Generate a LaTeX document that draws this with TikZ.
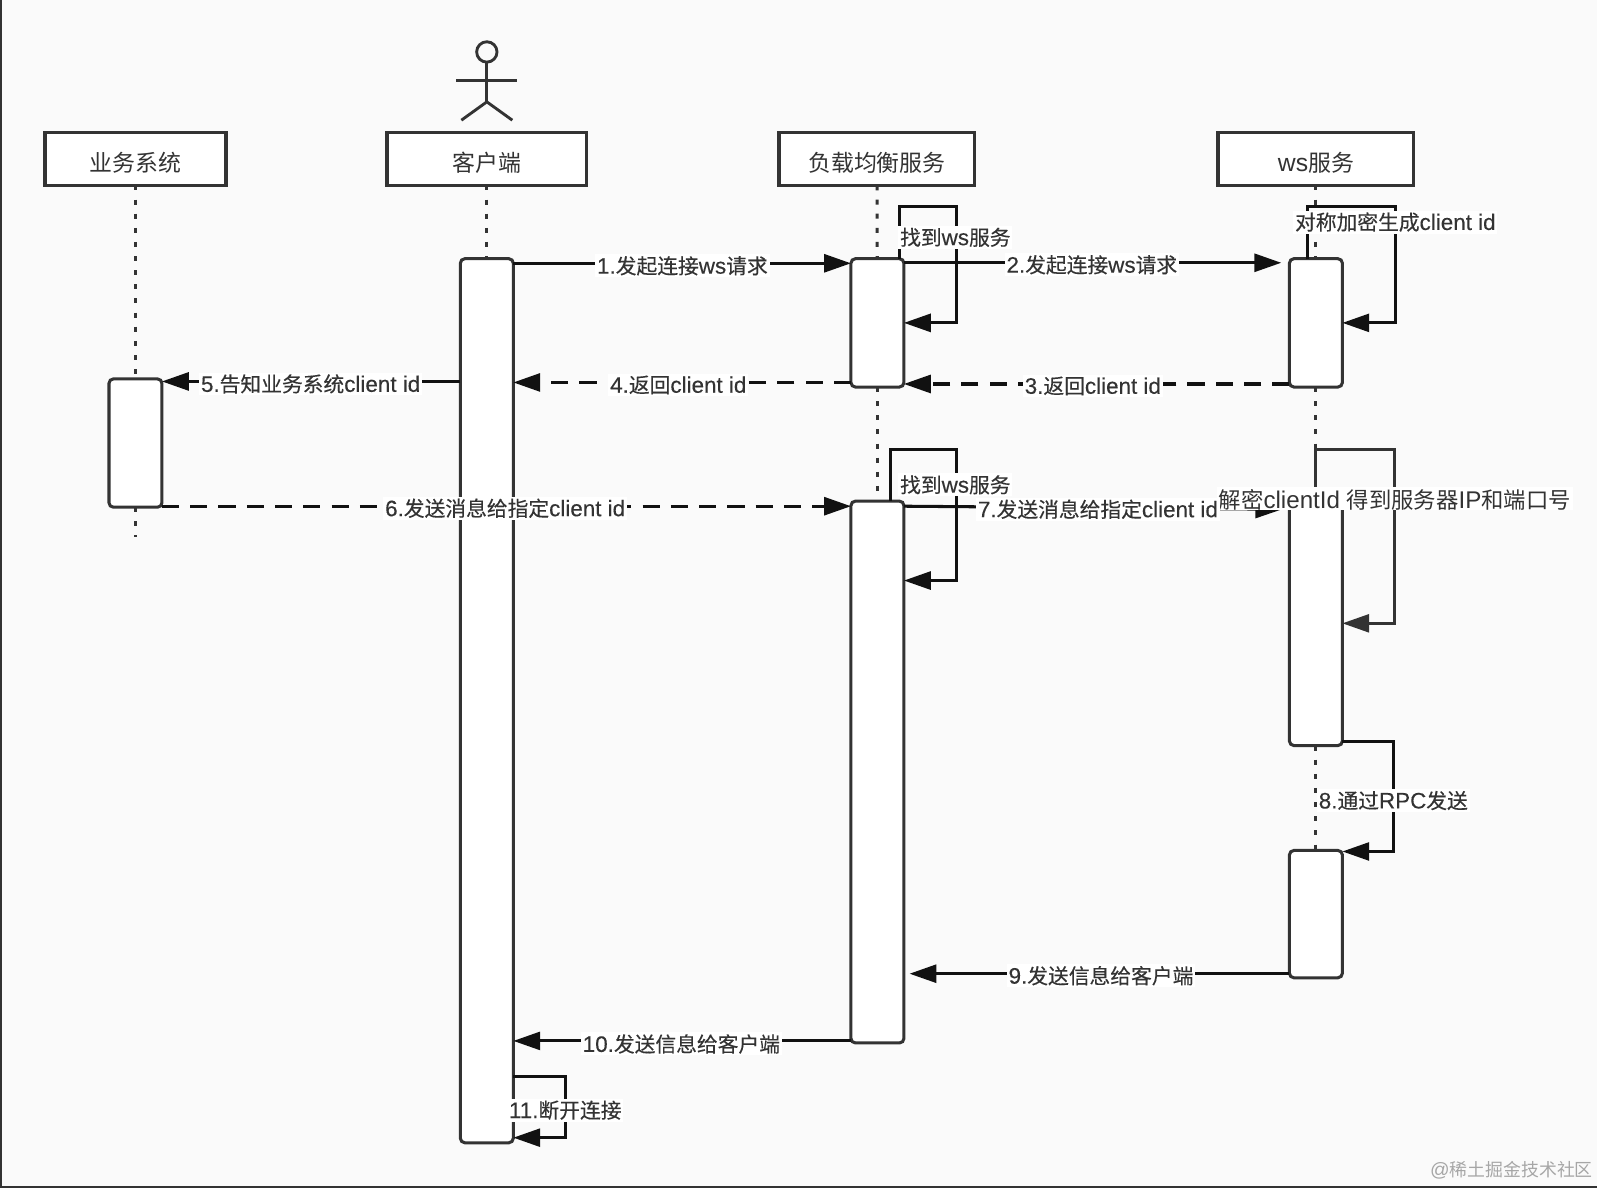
\documentclass[tikz,border=0pt]{standalone}
\usepackage{fontspec}
\setmainfont[Scale=1.08]{Liberation Sans}
\newfontfamily\latheavy[Scale=1.08,FakeBold=0.25]{Liberation Sans}
\newfontfamily\cjk{Noto Sans CJK SC}
\newfontfamily\cjkheavy[FakeBold=0.25]{Noto Sans CJK SC}
\usetikzlibrary{arrows.meta}
\definecolor{paper}{HTML}{FAFAFA}
\definecolor{ink}{HTML}{333333}
\definecolor{wire}{HTML}{111111}
\tikzset{
	headbox/.style={draw=ink, fill=white, line width=2pt, outer sep=0pt, inner sep=0pt, minimum height=1.04cm, text height=13.6pt, text depth=0pt, text=ink, font=\fontsize{12.8}{15}\selectfont},
	lifeline/.style={draw=ink, line width=1.7pt, dash pattern=on 2.8pt off 5.1pt},
	bar/.style={draw=ink, fill=white, line width=1.7pt, rounded corners=2.5pt, outer sep=0pt, inner sep=0pt, minimum width=1.04cm, minimum height=#1*0.02cm},
	msg/.style={draw=wire, line width=1.7pt, -{Triangle[length=15pt,width=10pt]}},
	reply/.style={msg, dash pattern=on 9.6pt off 6.2pt},
	msglabel/.style={fill=white, text=ink, inner sep=1pt, font=\fontsize{11.6}{14}\selectfont\latheavy\let\cjk\cjkheavy},
	biglabel/.style={fill=white, text=ink, inner sep=1pt, text depth=0pt, font=\fontsize{12.5}{15}\selectfont},
}
\begin{document}
\begin{tikzpicture}[x=0.02cm, y=-0.02cm]

	\fill[paper] (0,0) rectangle (1568,1166.4);
	\useasboundingbox (0,0) rectangle (1568,1166.4);
	\fill[ink] (0,0) rectangle (1.5,1166.4);
	\fill[ink] (0,1164) rectangle (1568,1166.4);

	\node[headbox, minimum width=3.56cm] (biz) at (133,156) {\cjk 业务系统};
	\node[headbox, minimum width=3.92cm] (client) at (478,156) {\cjk 客户端};
	\node[headbox, minimum width=3.84cm] (balance) at (861,156) {\cjk 负载均衡服务};
	\node[headbox, minimum width=3.84cm] (ws) at (1292,156) {ws{\cjk 服务}};

	\node[bar=126] (bizbar) at (133,435) {};
	\node[bar=868] (clientbar) at (478,688) {};
	\node[bar=126] (balancebarA) at (861.5,317) {};
	\node[bar=532] (balancebarB) at (861.5,758) {};
	\node[bar=126] (wsbarA) at (1292,317) {};
	\node[bar=240] (wsbarB) at (1292,612) {};
	\node[bar=125] (wsbarC) at (1292,897.5) {};
	\coordinate (bizend) at (133,527);

	\draw[lifeline] (biz) -- (bizbar);
	\draw[lifeline] (bizbar) -- (bizend);
	\draw[lifeline] (client) -- (clientbar);
	\draw[lifeline] (balance) -- (balancebarA);
	\draw[lifeline] (balancebarA) -- (balancebarB);
	\draw[lifeline] (ws) -- (wsbarA);
	\draw[lifeline] (wsbarA) -- (wsbarB);
	\draw[lifeline] (wsbarB) -- (wsbarC);

	\coordinate (head) at (478,51);
	\draw[ink, line width=1.6pt] (head) circle (10);
	\draw[ink, line width=1.6pt] (478,61) -- (478,100);
	\draw[ink, line width=1.6pt] (448,79) -- (508,79);
	\draw[ink, line width=1.6pt] (453,118) -- (478,100) -- (503,118);

	\draw[msg] (clientbar.north east |- 0,258.5) -- (balancebarA.west |- 0,258.5);
	\draw[msg] (balancebarA.east |- 0,258) -- (1258,258);
	\draw[reply] (wsbarA.west |- 0,377) -- (balancebarA.east |- 0,377);
	\draw[reply] (balancebarA.west |- 0,375.5) -- (clientbar.east |- 0,375.5);
	\draw[msg] (clientbar.west |- 0,374.5) -- (bizbar.east |- 0,374.5);
	\draw[reply] (bizbar.east |- 0,497) -- (balancebarB.west |- 0,497);
	\draw[msg] (balancebarB.east |- 0,497) -- (1259,500);
	\draw[msg] (wsbarC.west |- 0,956) -- (893,956);
	\draw[msg] (balancebarB.west |- 0,1022) -- (clientbar.east |- 0,1022);

	\draw[msg] (883,254) -- (883,203) -- (939,203) -- (939,317) -- (balancebarA.east |- 0,317);
	\draw[msg] (874,492) -- (874,441) -- (939,441) -- (939,570) -- (balancebarB.east |- 0,570);
	\draw[msg] (1284,254) -- (1284,203) -- (1370,203) -- (1370,317) -- (wsbarA.east |- 0,317);
	\draw[msg, draw=ink] (1292,492) -- (1292,441) -- (1369,441) -- (1369,612) -- (wsbarB.east |- 0,612);
	\draw[msg] (wsbarB.east |- 0,728) -- (1368,728) -- (1368,836) -- (wsbarC.east |- 0,836);
	\draw[msg] (clientbar.east |- 0,1057) -- (555,1057) -- (555,1117) -- (clientbar.east |- 0,1117);

	\node[biglabel] (decrypt) at (1369.5,489.5) {{\cjk 解密}clientId {\cjk 得到服务器}IP{\cjk 和端口号}};
	\node[msglabel] (msgA) at (670,261) {1.{\cjk 发起连接}ws{\cjk 请求}};
	\node[msglabel] (msgB) at (1072,260) {2.{\cjk 发起连接}ws{\cjk 请求}};
	\node[msglabel] (msgC) at (1073,379) {3.{\cjk 返回}client id};
	\node[msglabel] (msgD) at (666,378) {4.{\cjk 返回}client id};
	\node[msglabel] (msgE) at (305,377) {5.{\cjk 告知业务系统}client id};
	\node[msglabel] (msgF) at (496,499) {6.{\cjk 发送消息给指定}client id};
	\node[msglabel] (msgG) at (1078,500) {7.{\cjk 发送消息给指定}client id};
	\node[msglabel] (msgH) at (1368,786) {8.{\cjk 通过}RPC{\cjk 发送}};
	\node[msglabel] (msgI) at (1081,958) {9.{\cjk 发送信息给客户端}};
	\node[msglabel] (msgJ) at (669,1025) {10.{\cjk 发送信息给客户端}};
	\node[msglabel] (msgK) at (555,1090) {11.{\cjk 断开连接}};
	\node[msglabel] (findA) at (938,233) {{\cjk 找到}ws{\cjk 服务}};
	\node[msglabel] (findB) at (938,476) {{\cjk 找到}ws{\cjk 服务}};
	\node[msglabel] (encrypt) at (1370,218) {{\cjk 对称加密生成}client id};
	\node[text=black!35, inner sep=0pt, font=\fontsize{10}{12}\selectfont] (mark) at (1484,1149) {@{\cjk 稀土掘金技术社区}};

\end{tikzpicture}
\end{document}
